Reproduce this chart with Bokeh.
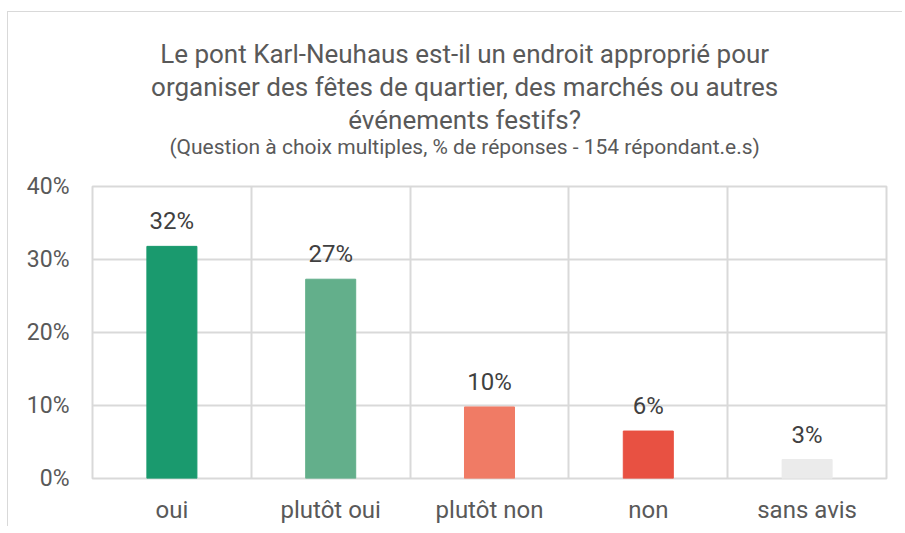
from bokeh.plotting import figure
from bokeh.layouts import column
from bokeh.models import (ColumnDataSource, FactorRange, FixedTicker, LabelSet, Label,
                          PrintfTickFormatter, Range1d)
from bokeh.core.properties import value
from bokeh.embed import file_html
from bokeh.resources import INLINE

# ---- data ----
categories = ["oui", "plutôt oui", "plutôt non", "non", "sans avis"]
values = [31.8, 27.3, 9.8, 6.5, 2.6]
value_labels = ["32%", "27%", "10%", "6%", "3%"]
colors = ["#1a9a6e", "#63af8b", "#f07b65", "#e85142", "#ebebeb"]
y_ticks = [0, 10, 20, 30, 40]
title_lines = [
    "Le pont Karl-Neuhaus est-il un endroit approprié pour",
    "organiser des fêtes de quartier, des marchés ou autres",
    "événements festifs?",
]
subtitle = "(Question à choix multiples, % de réponses - 154 répondant.e.s)"

FONT = "Roboto"
TEXT = "#595959"
GRID = "#d9d9d9"

W = 894
TH = 152   # title strip height
H = 362    # chart height

# ---- title strip (its own figure so text can be centred on the whole width) ----
t = figure(width=W, height=TH, x_range=Range1d(0, W), y_range=Range1d(TH, 0),
           x_axis_location=None, y_axis_location=None,
           output_backend="svg", toolbar_location=None, tools="",
           min_border_left=0, min_border_right=0, min_border_top=0, min_border_bottom=0)
t.grid.visible = False
t.outline_line_color = None
cx = 419
for i, line in enumerate(title_lines):
    t.add_layout(Label(x=cx, y=41 + 33 * i, text=line,
                       text_align="center", text_baseline="alphabetic",
                       text_font=FONT, text_font_size="26px", text_color=TEXT))
t.add_layout(Label(x=cx, y=134, text=subtitle,
                   text_align="center", text_baseline="alphabetic",
                   text_font=FONT, text_font_size="21px", text_color=TEXT))

# ---- chart ----
src = ColumnDataSource(dict(cat=categories, val=values, lab=value_labels, col=colors))

p = figure(
    width=W, height=H,
    x_range=FactorRange(factors=categories, range_padding=0),
    y_range=Range1d(0, 40),
    output_backend="svg", toolbar_location=None, tools="",
    min_border_left=84, min_border_right=16, min_border_top=22, min_border_bottom=46,
)

p.vbar(x="cat", top="val", width=0.315, color="col", source=src)

p.add_layout(LabelSet(x="cat", y="val", text="lab", source=src, y_offset=17,
                      text_align="center", text_baseline="alphabetic",
                      text_font=value(FONT), text_font_size="24px", text_color="#404040"))

p.yaxis.ticker = FixedTicker(ticks=y_ticks)
p.yaxis.formatter = PrintfTickFormatter(format="%d%%")
for ax in (p.xaxis[0], p.yaxis[0]):
    ax.axis_line_color = None
    ax.major_tick_line_color = None
    ax.minor_tick_line_color = None
    ax.major_label_text_font = FONT
    ax.major_label_text_color = TEXT
p.yaxis.major_label_text_font_size = "23px"
p.yaxis.major_label_standoff = 17
p.xaxis.major_label_text_font_size = "24px"
p.xaxis.major_label_standoff = 11

p.ygrid.ticker = FixedTicker(ticks=y_ticks)
p.ygrid.grid_line_color = GRID
p.ygrid.grid_line_width = 2
p.xgrid.ticker = FixedTicker(ticks=[1, 2, 3, 4])
p.xgrid.grid_line_color = GRID
p.xgrid.grid_line_width = 2
p.outline_line_color = GRID
p.outline_line_width = 2

layout = column(t, p, spacing=0)
layout.margin = (11, 0, 0, 7)
layout.styles = {"border-top": "1px solid #d9d9d9", "border-left": "1px solid #d9d9d9"}

open("out.html", "w").write(file_html(layout, INLINE))
